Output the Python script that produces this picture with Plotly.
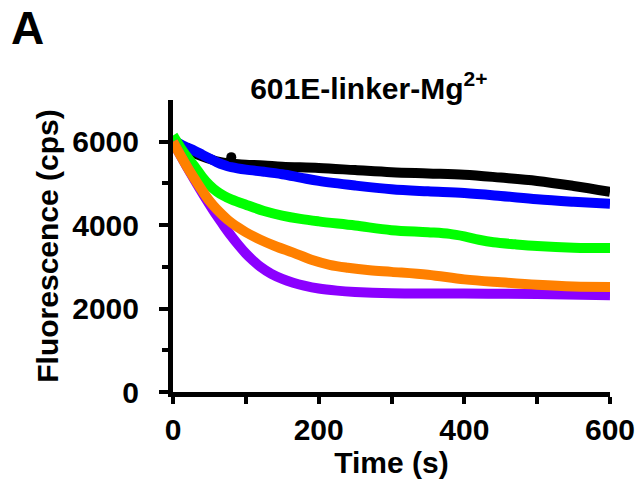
import plotly.graph_objects as go

t_black = [0, 10, 20, 30, 40, 50, 60, 80, 100, 125, 150, 200, 250, 300, 350, 400, 450, 500, 550, 600]
black = [6000, 5900, 5800, 5720, 5650, 5590, 5530, 5470, 5450, 5430, 5400, 5370, 5320, 5270, 5240, 5210, 5140, 5060, 4940, 4800]
t_black_out = [80]
black_out = [5630]

t_blue = [0, 10, 20, 30, 40, 50, 60, 70, 80, 100, 125, 150, 175, 200, 250, 300, 350, 400, 450, 500, 550, 600]
blue = [6050, 5940, 5860, 5780, 5690, 5600, 5510, 5440, 5390, 5330, 5280, 5220, 5140, 5060, 4950, 4860, 4810, 4770, 4700, 4620, 4560, 4510]

t_green = [0, 10, 20, 30, 40, 50, 60, 70, 80, 100, 125, 150, 175, 200, 250, 300, 350, 380, 400, 420, 440, 470, 500, 550, 600]
green = [6150, 5870, 5620, 5400, 5160, 4960, 4810, 4700, 4620, 4490, 4340, 4230, 4150, 4090, 3990, 3880, 3830, 3790, 3730, 3650, 3590, 3540, 3500, 3460, 3450]

t_purple = [0, 10, 20, 30, 40, 50, 60, 70, 80, 90, 100, 110, 120, 135, 150, 165, 180, 200, 225, 250, 300, 400, 500, 600]
purple = [6000, 5680, 5370, 5070, 4780, 4500, 4230, 3980, 3740, 3520, 3320, 3150, 3000, 2830, 2710, 2620, 2550, 2480, 2430, 2400, 2370, 2360, 2350, 2320]

t_orange = [0, 10, 20, 30, 40, 50, 60, 75, 90, 100, 120, 140, 165, 190, 215, 240, 270, 300, 350, 400, 450, 500, 550, 600]
orange = [6000, 5680, 5380, 5100, 4830, 4580, 4380, 4130, 3940, 3830, 3650, 3500, 3340, 3170, 3050, 2980, 2920, 2880, 2810, 2700, 2630, 2570, 2530, 2520]

x_ticks = [0, 200, 400, 600]
y_ticks = [0, 2000, 4000, 6000]

FONT = "Liberation Sans, Arial, Helvetica, sans-serif"

fig = go.Figure()
series = [
    (t_black, black, "#000000"),
    (t_blue, blue, "#0000FF"),
    (t_green, green, "#00FF00"),
    (t_purple, purple, "#8B00FF"),
    (t_orange, orange, "#FF8000"),
]
for t, v, c in series:
    fig.add_trace(go.Scatter(x=t, y=v, mode="lines", line=dict(color=c, width=10, shape="spline", smoothing=1.0),
                             showlegend=False, hoverinfo="skip"))
fig.add_trace(go.Scatter(x=t_black_out, y=black_out, mode="markers",
                         marker=dict(color="#000000", size=10), showlegend=False, hoverinfo="skip"))

fig.update_layout(
    width=637, height=481,
    margin=dict(l=173, r=27, t=100, b=89, autoexpand=False),
    paper_bgcolor="white", plot_bgcolor="white",
    font=dict(family=FONT, color="black"),
    title=dict(text="<b>601E-linker-Mg<sup>2+</sup></b>", x=0.579, xanchor="center",
               xref="container", yref="container", y=0.817, yanchor="middle",
               font=dict(size=30, family=FONT, color="black")),
)
fig.add_annotation(text="<b>A</b>", xref="paper", yref="paper", x=-0.375, y=1.245,
                   xanchor="left", yanchor="middle", showarrow=False,
                   font=dict(size=46, family=FONT, color="black"))

fig.update_xaxes(range=[0, 600], tickvals=x_ticks, showgrid=False, zeroline=False, automargin=False,
                 showline=True, linecolor="black", linewidth=5,
                 ticks="outside", ticklen=7, tickwidth=4, tickcolor="black",
                 minor=dict(tickvals=[100, 300, 500], ticks="outside", ticklen=7, tickwidth=4,
                            tickcolor="black", showgrid=False),
                 tickfont=dict(size=30, family=FONT, weight="bold", color="black"),
                 title=dict(text="<b>Time (s)</b>", font=dict(size=30, family=FONT, color="black"), standoff=0))
fig.update_yaxes(range=[0, 7000], tickvals=y_ticks, showgrid=False, zeroline=False, automargin=False,
                 showline=True, linecolor="black", linewidth=5,
                 ticks="outside", ticklen=9, tickwidth=4, tickcolor="black",
                 minor=dict(tickvals=[1000, 3000, 5000], ticks="outside", ticklen=6, tickwidth=4,
                            tickcolor="black", showgrid=False),
                 ticklabelstandoff=14,
                 tickfont=dict(size=30, family=FONT, weight="bold", color="black"),
                 title=dict(text="<b>Fluorescence (cps)</b>", font=dict(size=30, family=FONT, color="black"), standoff=6))

fig.write_html("out.html", config={"displayModeBar": False},
               post_script="document.body.style.margin='0';document.body.style.overflow='hidden';")
